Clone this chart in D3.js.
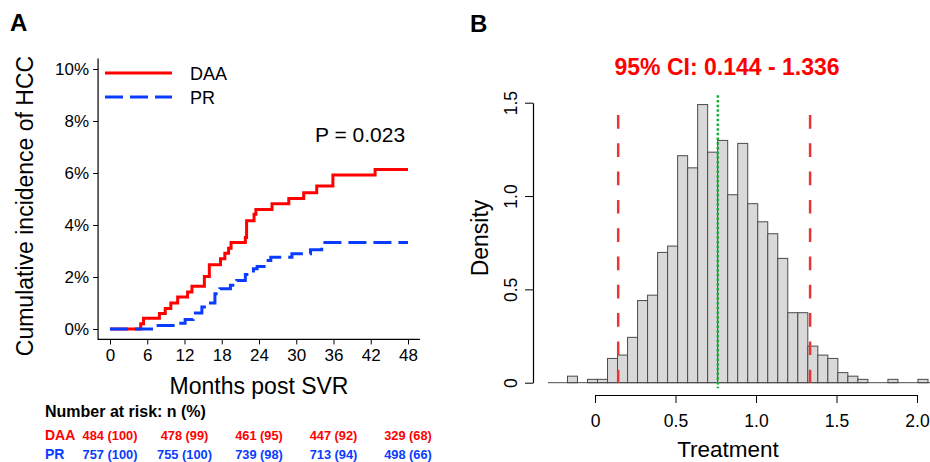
<!DOCTYPE html>
<html lang="en">
<head>
<meta charset="UTF-8">
<title>Cumulative incidence of HCC and treatment distribution</title>
<script src="https://d3js.org/d3.v7.min.js"></script>
<style>
  body { margin: 0; background: #fff; }
  svg { display: block; font-family: "Liberation Sans", Arial, Helvetica, sans-serif; }
</style>
</head>
<body>
<div id="chart"></div>
<script>
// ---- Panel A: cumulative incidence step curves (percent) ----
const daaMonths    = [0, 4.95, 5.4, 7.96, 8.9, 9.8, 10.9, 12.5, 13.2, 15.2, 16.0, 17.8, 18.5, 19.1, 19.5, 21.8, 22.0, 23.2, 23.5, 26.1, 28.8, 31.2, 33.3, 35.9, 42.7, 48];
const daaIncidence = [0, 0.2, 0.41, 0.6, 0.79, 1.0, 1.23, 1.42, 1.64, 2.02, 2.47, 2.7, 2.91, 3.11, 3.33, 3.52, 4.16, 4.41, 4.6, 4.82, 5.02, 5.24, 5.5, 5.92, 6.13, 6.13];
const prMonths     = [0, 7.0, 10.6, 12.1, 13.4, 14.8, 15.6, 16.9, 17.7, 19.4, 20.4, 21.8, 23.1, 23.7, 25.1, 25.9, 29.3, 32.3, 34.1, 48];
const prIncidence  = [0, 0.13, 0.22, 0.37, 0.62, 0.85, 1.0, 1.36, 1.55, 1.68, 1.87, 2.1, 2.32, 2.4, 2.63, 2.76, 2.89, 3.05, 3.33, 3.33];
const monthTicks   = [0, 6, 12, 18, 24, 30, 36, 42, 48];
const percentTicks = [0, 2, 4, 6, 8, 10];
const riskMonths   = [0, 12, 24, 36, 48];
const riskDAA      = ["484 (100)", "478 (99)", "461 (95)", "447 (92)", "329 (68)"];
const riskPR       = ["757 (100)", "755 (100)", "739 (98)", "713 (94)", "498 (66)"];

// ---- Panel B: histogram of treatment estimates ----
const binStart = -0.171;
const binWidth = 0.0622;
const density  = [0.035, 0, 0.018, 0.018, 0.13, 0.148, 0.243, 0.44, 0.469, 0.698, 0.732, 1.216, 1.151, 1.49,
                  1.235, 1.298, 1.007, 1.282, 0.959, 0.862, 0.798, 0.666, 0.375, 0.375, 0.196, 0.148, 0.13,
                  0.054, 0.035, 0.018, 0, 0, 0.018, 0, 0, 0.018];
const ciLow = 0.144, ciHigh = 1.336, estimate = 0.763;
const treatmentTicks = [0, 0.5, 1, 1.5, 2];
const densityTicks   = [0, 0.5, 1, 1.5];

const red = "#ff0000", blue = "#0a3cff";

const svg = d3.select("#chart").append("svg")
    .attr("width", 930)
    .attr("height", 462);

// ================= Panel A =================
const xA = d3.scaleLinear().domain([0, 48]).range([110, 408]);
const yA = d3.scaleLinear().domain([0, 10]).range([329, 69]);

const gA = svg.append("g");

// L-shaped box (R bty="l", 4% padding)
gA.append("path")
    .attr("d", `M${xA(-1.92)},${yA(10.4)}V${yA(-0.4)}H${xA(49.92)}`)
    .attr("fill", "none")
    .attr("stroke", "#000")
    .attr("stroke-width", 1.2);

const yAxisA = gA.append("g")
    .attr("transform", `translate(${xA(-1.92)},0)`)
    .call(d3.axisLeft(yA).tickValues(percentTicks).tickFormat(d => d + "%").tickSize(5).tickPadding(4));
yAxisA.select(".domain").remove();
yAxisA.attr("font-size", 17).attr("font-family", null);

const xAxisA = gA.append("g")
    .attr("transform", `translate(0,${yA(-0.4)})`)
    .call(d3.axisBottom(xA).tickValues(monthTicks).tickSize(5).tickPadding(5));
xAxisA.select(".domain").remove();
xAxisA.attr("font-size", 17).attr("font-family", null);

const step = d3.line()
    .x(d => xA(d[0]))
    .y(d => yA(d[1]))
    .curve(d3.curveStepAfter);

gA.append("path")
    .datum(d3.zip(daaMonths, daaIncidence))
    .attr("d", step)
    .attr("fill", "none")
    .attr("stroke", red)
    .attr("stroke-width", 3);

gA.append("path")
    .datum(d3.zip(prMonths, prIncidence))
    .attr("d", step)
    .attr("fill", "none")
    .attr("stroke", blue)
    .attr("stroke-width", 3)
    .attr("stroke-dasharray", "18,7");

// legend
const legend = [
    {name: "DAA", color: red, dash: null, y: 73},
    {name: "PR", color: blue, dash: "18,7", y: 97}
];
legend.forEach(l => {
    gA.append("line")
        .attr("x1", 105).attr("x2", 172)
        .attr("y1", l.y).attr("y2", l.y)
        .attr("stroke", l.color)
        .attr("stroke-width", 3)
        .attr("stroke-dasharray", l.dash);
    gA.append("text")
        .attr("x", 190).attr("y", l.y + 7)
        .attr("font-size", 18)
        .text(l.name);
});

gA.append("text")
    .attr("x", 315).attr("y", 142)
    .attr("font-size", 21)
    .text("P = 0.023");

gA.append("text")
    .attr("x", (xA(0) + xA(48)) / 2).attr("y", 394)
    .attr("text-anchor", "middle")
    .attr("font-size", 23)
    .text("Months post SVR");

gA.append("text")
    .attr("transform", "translate(33,206) rotate(-90)")
    .attr("text-anchor", "middle")
    .attr("font-size", 23)
    .text("Cumulative incidence of HCC");

svg.append("text")
    .attr("x", 10).attr("y", 31)
    .attr("font-size", 24)
    .attr("font-weight", "bold")
    .text("A");

// number at risk table
gA.append("text")
    .attr("x", 45).attr("y", 417)
    .attr("font-size", 16)
    .attr("font-weight", "bold")
    .text("Number at risk: n (%)");

const riskRows = [
    {label: "DAA", values: riskDAA, color: red, y: 440},
    {label: "PR", values: riskPR, color: blue, y: 459}
];
riskRows.forEach(r => {
    gA.append("text")
        .attr("x", 45).attr("y", r.y)
        .attr("font-size", 14)
        .attr("font-weight", "bold")
        .attr("fill", r.color)
        .text(r.label);
    gA.selectAll(null)
        .data(r.values)
        .enter().append("text")
        .attr("x", (d, i) => xA(riskMonths[i]))
        .attr("y", r.y)
        .attr("text-anchor", "middle")
        .attr("font-size", 12.8)
        .attr("font-weight", "bold")
        .attr("fill", r.color)
        .text(d => d);
});

// ================= Panel B =================
const xB = d3.scaleLinear().domain([0, 2]).range([595, 917]);
const yB = d3.scaleLinear().domain([0, 1.5]).range([382.7, 102.7]);

const gB = svg.append("g");

const bins = density.map((d, i) => ({x0: binStart + i * binWidth, density: d}))
    .filter(b => b.density > 0);

gB.selectAll("rect")
    .data(bins)
    .enter().append("rect")
    .attr("x", b => xB(b.x0))
    .attr("width", xB(binWidth) - xB(0))
    .attr("y", b => yB(b.density))
    .attr("height", b => yB(0) - yB(b.density))
    .attr("fill", "#d9d9d9")
    .attr("stroke", "#4a4a4a")
    .attr("stroke-width", 1);

gB.append("line")
    .attr("x1", xB(-0.292)).attr("x2", 935)
    .attr("y1", yB(0)).attr("y2", yB(0))
    .attr("stroke", "#4a4a4a")
    .attr("stroke-width", 1);

[ciLow, ciHigh].forEach(v => {
    gB.append("line")
        .attr("x1", xB(v)).attr("x2", xB(v))
        .attr("y1", yB(1.434)).attr("y2", yB(0))
        .attr("stroke", "#ee3333")
        .attr("stroke-width", 2.5)
        .attr("stroke-dasharray", "13.7,14.6");
});

gB.append("line")
    .attr("x1", xB(estimate)).attr("x2", xB(estimate))
    .attr("y1", yB(1.54)).attr("y2", yB(-0.03))
    .attr("stroke", "#1aaa3a")
    .attr("stroke-width", 2.5)
    .attr("stroke-dasharray", "2.5,2.2");

const fmtB = d => d === 0 ? "0" : d3.format(".1f")(d);

const yAxisB = gB.append("g")
    .attr("transform", "translate(533,0)")
    .call(d3.axisLeft(yB).tickValues(densityTicks).tickFormat(fmtB).tickSize(8).tickSizeOuter(0));
yAxisB.attr("font-size", 17.5).attr("font-family", null);
yAxisB.select(".domain").attr("stroke-width", 1.2);
yAxisB.selectAll(".tick text")
    .attr("x", null)
    .attr("dy", null)
    .attr("text-anchor", "middle")
    .attr("transform", "translate(-16,0) rotate(-90)");

const xAxisB = gB.append("g")
    .attr("transform", "translate(0,395)")
    .call(d3.axisBottom(xB).tickValues(treatmentTicks).tickFormat(fmtB).tickSize(8).tickSizeOuter(0).tickPadding(12));
xAxisB.attr("font-size", 17.5).attr("font-family", null);
xAxisB.select(".domain").attr("stroke-width", 1.2);

gB.append("text")
    .attr("x", 727).attr("y", 75)
    .attr("text-anchor", "middle")
    .attr("font-size", 23)
    .attr("font-weight", "bold")
    .attr("fill", red)
    .text("95% CI: 0.144 - 1.336");

gB.append("text")
    .attr("x", 728).attr("y", 457)
    .attr("text-anchor", "middle")
    .attr("font-size", 22.5)
    .text("Treatment");

gB.append("text")
    .attr("transform", "translate(488,238) rotate(-90)")
    .attr("text-anchor", "middle")
    .attr("font-size", 23)
    .text("Density");

svg.append("text")
    .attr("x", 470).attr("y", 32)
    .attr("font-size", 24)
    .attr("font-weight", "bold")
    .text("B");
</script>
</body>
</html>
